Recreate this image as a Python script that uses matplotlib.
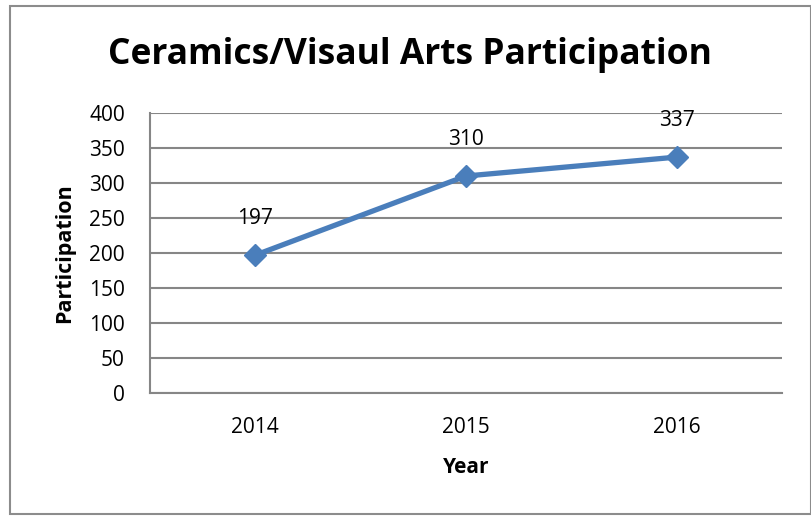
import matplotlib.pyplot as plt
from matplotlib.patches import Rectangle

years = ["2014", "2015", "2016"]
participation = [197, 310, 337]
yticks = [0, 50, 100, 150, 200, 250, 300, 350, 400]

plt.rcParams['font.family'] = ['Open Sans', 'DejaVu Sans']

fig = plt.figure(figsize=(8.12, 5.16), dpi=100)
ax = fig.add_axes([150/812, 123/516, 632/812, 280/516])

# outer chart border
fig.patches.append(Rectangle((10/812, 2/516), 801/812, 508/516, transform=fig.transFigure,
                             fill=False, edgecolor='#8c8c8c', linewidth=1.5))

x = range(len(years))
ax.plot(x, participation, color='#4a7ebb', linewidth=3.8, marker='D', markersize=11,
        markeredgecolor='#4a7ebb', zorder=3)
for i, v in zip(x, participation):
    ax.annotate(str(v), (i, v), xytext=(0, 19), textcoords='offset points',
                ha='center', va='bottom', fontsize=15)

ax.set_xlim(-0.5, 2.5)
ax.set_ylim(0, 400)
ax.set_yticks(yticks)
ax.set_xticks(list(x))
ax.set_xticklabels(years)
ax.tick_params(axis='both', length=0, labelsize=15)
ax.tick_params(axis='y', pad=18)
ax.tick_params(axis='x', pad=17)
ax.grid(axis='y', color='#868686', linewidth=1.5)
ax.set_axisbelow(True)
for s in ['top', 'right']:
    ax.spines[s].set_visible(False)
for s in ['left', 'bottom']:
    ax.spines[s].set_color('#868686')
    ax.spines[s].set_linewidth(1.5)

ax.set_xlabel("Year", fontsize=15, fontweight='bold', labelpad=14)
ax.set_ylabel("Participation", fontsize=15.5, fontweight='bold', labelpad=10)
fig.text(410/812, 1 - 55/516, "Ceramics/Visaul Arts Participation", ha='center', va='center',
         fontsize=25.5, fontweight='bold')

plt.savefig("out.png")
